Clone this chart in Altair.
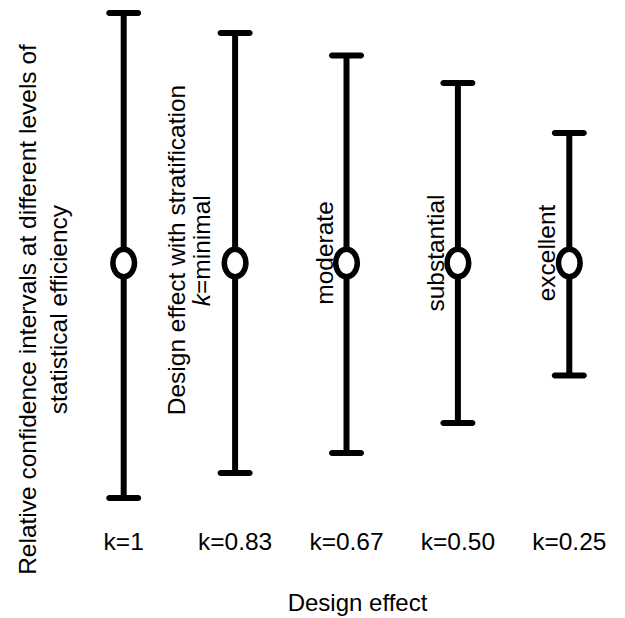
import altair as alt
import pandas as pd

# Data
categories = ["k=1", "k=0.83", "k=0.67", "k=0.50", "k=0.25"]
estimate = [0.0, 0.0, 0.0, 0.0, 0.0]
upper = [1.00, 0.92, 0.83, 0.72, 0.52]
lower = [-0.94, -0.84, -0.76, -0.64, -0.45]

ann_cats = ["k=0.67", "k=0.50", "k=0.25"]
ann_text = ["moderate", "substantial", "excellent"]
strat_cat = ["k=0.83"]
strat_line1 = ["Design effect with stratification"]
strat_k = ["k"]
strat_rest = ["=minimal"]

y_title = ["Relative confidence intervals at different levels of", "statistical efficiency"]
x_title = "Design effect"

FONT = "Liberation Sans"
FS = 24.5

df = pd.DataFrame({"k": categories, "est": estimate, "lo": lower, "hi": upper})
ann = pd.DataFrame({"k": ann_cats, "text": ann_text, "pos": [0.0] * len(ann_cats)})
s1 = pd.DataFrame({"k": strat_cat, "text": strat_line1, "pos": [0.0]})
sk = pd.DataFrame({"k": strat_cat, "text": strat_k, "pos": [0.0]})
sr = pd.DataFrame({"k": strat_cat, "text": strat_rest, "pos": [0.0]})

xenc = alt.X(
    "k:N",
    sort=categories,
    scale=alt.Scale(type="band", paddingInner=0, paddingOuter=0),
    axis=alt.Axis(
        title=x_title,
        labelAngle=0,
        ticks=False,
        tickSize=0,
        domain=False,
        grid=False,
        labelPadding=4,
        labelFontSize=FS,
        labelFont=FONT,
        labelColor="black",
        titleFontSize=24,
        titleFont=FONT,
        titleFontWeight="normal",
        titleColor="black",
        titleX=289,
        titleY=65,
        titleBaseline="top",
        titleAlign="center",
    ),
)

yscale = alt.Scale(domain=[-1.052, 1.052], nice=False, zero=False)

base = alt.Chart(df)

rules = base.mark_rule(color="black", strokeWidth=6).encode(
    x=xenc,
    y=alt.Y(
        "lo:Q",
        scale=yscale,
        axis=alt.Axis(
            title=y_title,
            labels=False,
            ticks=False,
            domain=False,
            grid=False,
            titleFontSize=FS,
            titleFont=FONT,
            titleFontWeight="normal",
            titleColor="black",
            titleAngle=270,
            titleX=-40,
            titleY=309,
            titleBaseline="middle",
            titleAlign="center",
            titleLineHeight=31,
        ),
    ),
    y2="hi:Q",
)

caps_hi = base.mark_tick(color="black", size=35, thickness=6, cornerRadius=3, opacity=1).encode(
    x=alt.X("k:N", sort=categories), y=alt.Y("hi:Q", scale=yscale)
)
caps_lo = base.mark_tick(color="black", size=35, thickness=6, cornerRadius=3, opacity=1).encode(
    x=alt.X("k:N", sort=categories), y=alt.Y("lo:Q", scale=yscale)
)

ellipse = "M-0.785,0A0.785,1,0,1,1,0.785,0A0.785,1,0,1,1,-0.785,0Z"
points = base.mark_point(
    shape=ellipse, size=760, fill="white", stroke="black", strokeWidth=5.5,
    opacity=1, fillOpacity=1, filled=False,
).encode(x=alt.X("k:N", sort=categories), y=alt.Y("est:Q", scale=yscale))

txt_props = dict(angle=270, fontSize=FS, font=FONT, color="black", baseline="middle")

ann_layer = alt.Chart(ann).mark_text(align="center", dx=10, dy=-21, **txt_props).encode(
    x=alt.X("k:N", sort=categories), y=alt.Y("pos:Q", scale=yscale), text="text:N"
)
s1_layer = alt.Chart(s1).mark_text(align="center", dx=13, dy=-57, **txt_props).encode(
    x=alt.X("k:N", sort=categories), y=alt.Y("pos:Q", scale=yscale), text="text:N"
)
sk_layer = alt.Chart(sk).mark_text(align="right", dx=-31, dy=-32, fontStyle="italic", **txt_props).encode(
    x=alt.X("k:N", sort=categories), y=alt.Y("pos:Q", scale=yscale), text="text:N"
)
sr_layer = alt.Chart(sr).mark_text(align="left", dx=-31, dy=-32, **txt_props).encode(
    x=alt.X("k:N", sort=categories), y=alt.Y("pos:Q", scale=yscale), text="text:N"
)

chart = (
    alt.layer(rules, caps_hi, caps_lo, points, ann_layer, s1_layer, sk_layer, sr_layer)
    .properties(
        width=557,
        height=526,
        autosize=alt.AutoSizeParams(type="none"),
        padding={"left": 68, "top": 0, "right": 0, "bottom": 92},
        background="white",
    )
    .configure_view(stroke=None)
)

chart.save("out.html", embed_options={"renderer": "svg", "actions": False})
